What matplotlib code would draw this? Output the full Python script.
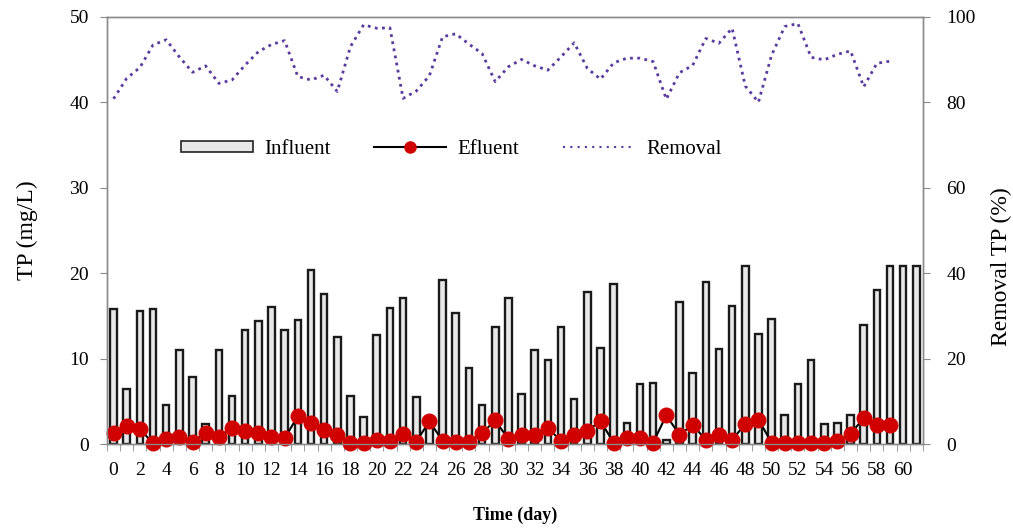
import matplotlib
matplotlib.use("Agg")
import matplotlib.pyplot as plt
from matplotlib.patches import Patch
from matplotlib.lines import Line2D
from matplotlib.ticker import MultipleLocator, FixedLocator

days_inf = list(range(62))
influent = [15.8, 6.5, 15.6, 15.8, 4.6, 11.0, 7.9, 2.4, 11.0, 5.6, 13.4, 14.4, 16.1, 13.4,
            14.5, 20.4, 17.6, 12.6, 5.7, 3.2, 12.8, 15.9, 17.1, 5.5, 2.0, 19.2, 15.4, 8.9,
            4.6, 13.7, 17.1, 5.9, 11.0, 9.8, 13.7, 5.3, 17.8, 11.3, 18.7, 2.5, 7.0, 7.2,
            0.5, 16.6, 8.3, 19.0, 11.2, 16.2, 20.8, 12.9, 14.7, 3.4, 7.0, 9.9, 2.4, 2.5,
            3.4, 14.0, 18.0, 20.8, 20.8, 20.8]

days_eff = list(range(60))
efluent = [1.3, 2.1, 1.8, 0.1, 0.6, 0.8, 0.3, 1.3, 0.9, 1.9, 1.5, 1.3, 0.9, 0.7, 3.3, 2.5,
           1.7, 1.1, 0.1, 0.2, 0.5, 0.4, 1.2, 0.3, 2.7, 0.4, 0.3, 0.3, 1.3, 2.8, 0.6, 1.1,
           1.1, 1.9, 0.4, 1.1, 1.6, 2.7, 0.2, 0.7, 0.7, 0.2, 3.4, 1.1, 2.3, 0.5, 1.1, 0.5,
           2.4, 2.9, 0.2, 0.2, 0.2, 0.2, 0.2, 0.4, 1.2, 3.1, 2.3, 2.3]

days_rem = list(range(60))
removal = [80.8, 85.6, 88.1, 93.4, 94.6, 90.6, 87.0, 88.5, 84.4, 85.2, 88.7, 91.8, 93.5,
           94.4, 86.0, 85.2, 86.3, 82.5, 93.0, 98.1, 97.3, 97.4, 80.9, 82.6, 86.2, 95.3,
           96.0, 93.6, 91.4, 84.8, 88.3, 90.0, 88.5, 87.5, 90.6, 93.9, 87.9, 85.4, 89.2,
           90.3, 90.3, 89.5, 80.7, 86.9, 88.6, 94.9, 93.8, 97.3, 83.8, 80.0, 91.0, 97.7,
           98.4, 90.5, 89.9, 91.2, 92.0, 83.6, 89.1, 89.6]

xtick_labels = list(range(0, 61, 2))

plt.rcParams['font.family'] = ['Liberation Serif', 'DejaVu Serif']
tick_fs = 14
spine_col = '#8a8a8a'

fig = plt.figure(figsize=(10.13, 5.28), dpi=100)
ax = fig.add_axes([0.1056, 0.1585, 0.8055, 0.8099])
ax2 = ax.twinx()

ax.bar(days_inf, influent, width=0.5, facecolor='#e8e8e8', edgecolor='#1a1a1a',
       linewidth=1.7, zorder=2)
ax.plot(days_eff, efluent, color='black', linewidth=1.5, marker='o', markersize=10.5,
        markerfacecolor='#d00000', markeredgecolor='#d00000', zorder=4, clip_on=False)
ax2.plot(days_rem, removal, color='#5a3a9e', linewidth=2.0, linestyle=(0, (1, 1.6)),
         zorder=3)

ax.set_xlim(-0.5, 61.5)
ax.set_ylim(0, 50)
ax2.set_ylim(0, 100)

ax.yaxis.set_major_locator(MultipleLocator(10))
ax2.yaxis.set_major_locator(MultipleLocator(20))
ax.xaxis.set_major_locator(FixedLocator(xtick_labels))
ax.set_xticklabels([str(v) for v in xtick_labels])
ax.xaxis.set_minor_locator(FixedLocator([d - 0.5 for d in range(63)]))

for a in (ax, ax2):
    for s in a.spines.values():
        s.set_color(spine_col)
        s.set_linewidth(1.0)
ax.tick_params(axis='x', which='major', length=0, pad=13, labelsize=tick_fs)
ax.tick_params(axis='x', which='minor', length=5, color=spine_col, direction='out')
ax.tick_params(axis='y', length=5, color=spine_col, pad=8, labelsize=tick_fs)
ax2.tick_params(axis='y', length=5, color=spine_col, pad=12, labelsize=tick_fs)

ax.set_ylabel('TP (mg/L)', fontsize=17)
ax.yaxis.set_label_coords(-0.085, 0.5)
ax2.set_ylabel('Removal TP (%)', fontsize=17)
ax2.yaxis.set_label_coords(1.083, 0.415)
ax.set_xlabel('Time (day)', fontsize=13, fontweight='bold', labelpad=20)

handles = [
    Patch(facecolor='#e8e8e8', edgecolor='#222222', linewidth=1.2),
    Line2D([0], [0], color='black', linewidth=1.5, marker='o', markersize=8,
           markerfacecolor='#d00000', markeredgecolor='#d00000'),
    Line2D([0], [0], color='#5a3a9e', linewidth=1.5, linestyle=(0, (1, 2.5))),
]
leg = ax2.legend(handles, ['Influent', 'Efluent', 'Removal'], loc='center',
                 bbox_to_anchor=(0.422, 0.69), ncol=3, frameon=False, fontsize=15,
                 handlelength=3.45, handleheight=0.45, handletextpad=0.55,
                 columnspacing=2.1)

fig.savefig('out.png', dpi=100)
